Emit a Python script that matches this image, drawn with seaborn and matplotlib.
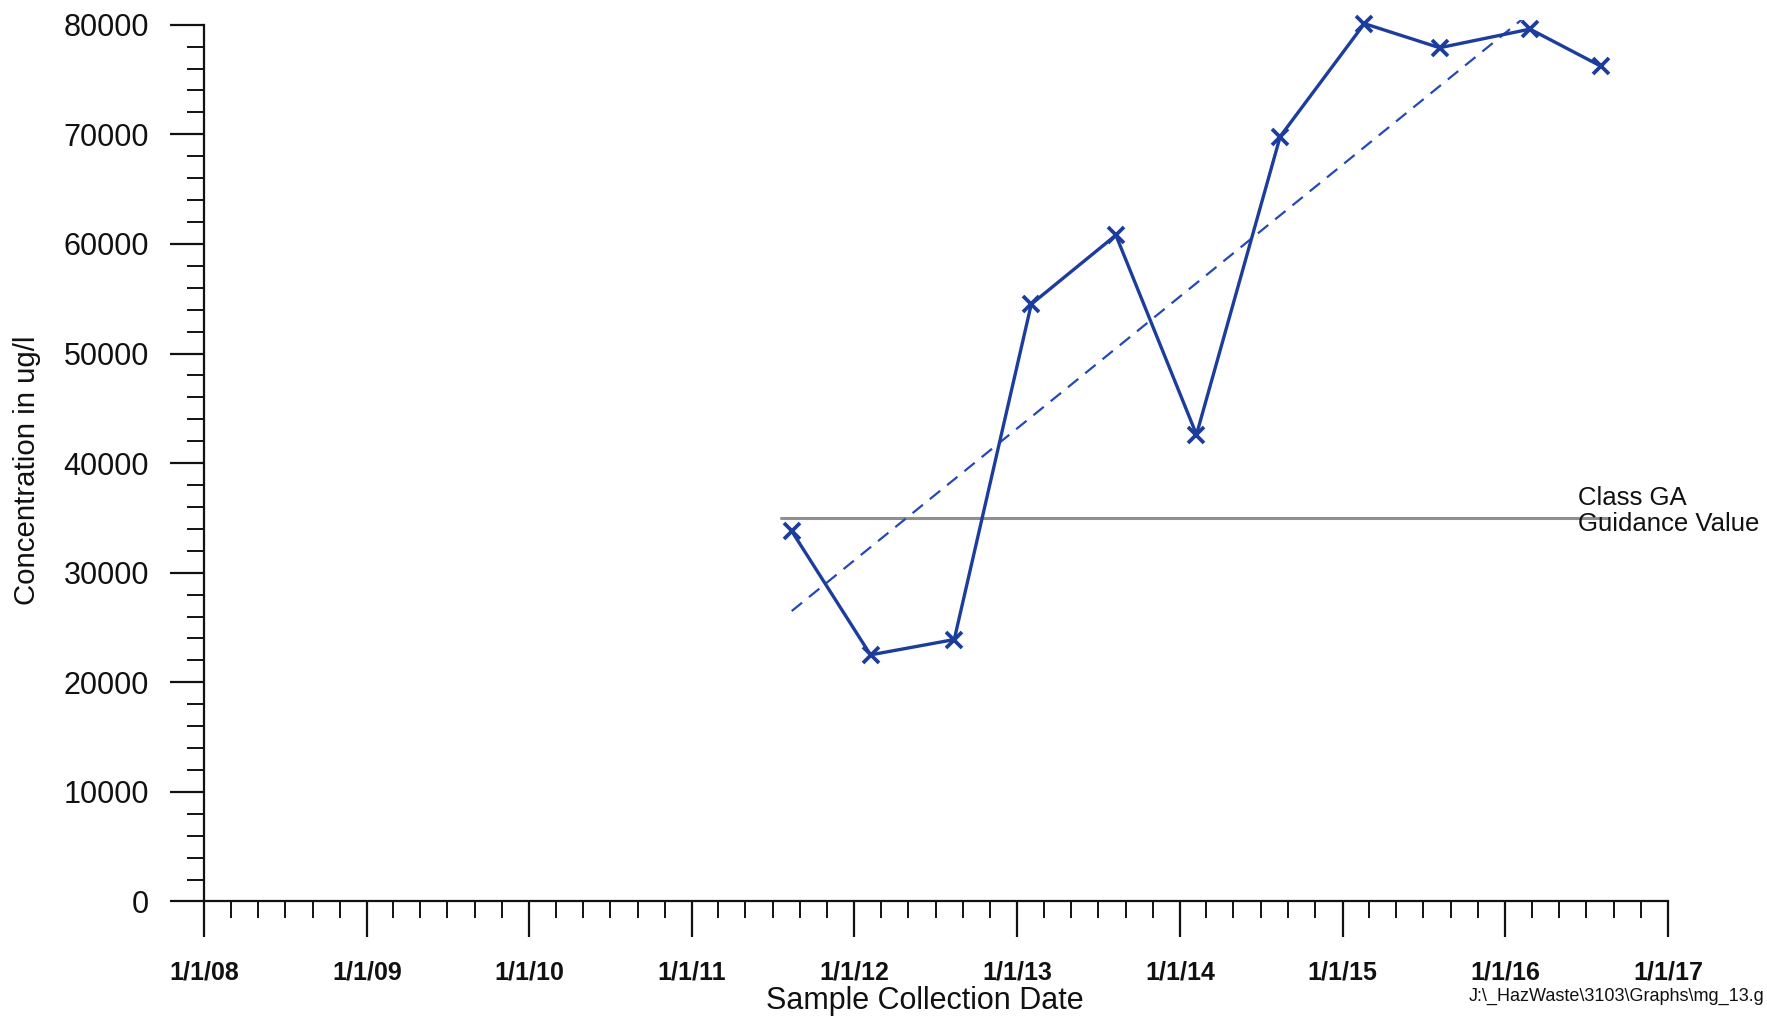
import numpy as np
import pandas as pd
import matplotlib
matplotlib.use("Agg")
import matplotlib.pyplot as plt
import matplotlib.dates as mdates
from matplotlib.ticker import FixedLocator, MultipleLocator, NullFormatter
import seaborn as sns

# Sample results
sample_dates = ["2011-08-13", "2012-02-06", "2012-08-12", "2013-02-01", "2013-08-10",
                "2014-02-07", "2014-08-14", "2015-02-19", "2015-08-07", "2016-02-26",
                "2016-08-04"]
concentration = [33800, 22500, 23900, 54500, 60800, 42600, 69800, 80100, 77900, 79600, 76200]

guidance_value = 35000
guidance_label = "Class GA\nGuidance Value"

year_ticks = ["2008-01-01", "2009-01-01", "2010-01-01", "2011-01-01", "2012-01-01",
              "2013-01-01", "2014-01-01", "2015-01-01", "2016-01-01", "2017-01-01"]
year_labels = ["1/1/08", "1/1/09", "1/1/10", "1/1/11", "1/1/12",
               "1/1/13", "1/1/14", "1/1/15", "1/1/16", "1/1/17"]
y_ticks = [0, 10000, 20000, 30000, 40000, 50000, 60000, 70000, 80000]

sns.set_theme(style="ticks")
plt.rcParams["font.family"] = ["Liberation Sans", "DejaVu Sans"]
narrow = ["Liberation Sans Narrow", "Liberation Sans", "DejaVu Sans"]

df = pd.DataFrame({"date": pd.to_datetime(sample_dates), "conc": concentration})

fig = plt.figure(figsize=(17.67, 10.17), dpi=100)
ax = fig.add_axes([0.1154, 0.1136, 0.944 - 0.1154, 0.98 - 0.1136])

line_color = "#1c3d9c"
sns.lineplot(data=df, x="date", y="conc", ax=ax, color=line_color, lw=2.4,
             marker="x", markersize=12, markeredgewidth=2.7, markeredgecolor=line_color,
             clip_on=False, zorder=4)

# Linear trend through the samples
xnum = mdates.date2num(df["date"])
slope, intercept = np.polyfit(xnum, df["conc"], 1)
tx = np.array([xnum[0], xnum[-1]])
ax.plot(tx, slope * tx + intercept, ls=(0, (6, 4)), color="#2448b8", lw=1.6, zorder=3)

# Guidance value line
gx = [xnum[0] - 25, xnum[-1] + 12]
ax.plot(gx, [guidance_value, guidance_value], color="#8f8f8f", lw=2.2, zorder=2, clip_on=False)
ax.annotate(guidance_label, xy=(mdates.date2num(pd.Timestamp("2016-06-13")), guidance_value),
            xytext=(0, 5), textcoords="offset points",
            fontsize=18.5, va="center", ha="left", linespacing=1.1, color="#111111",
            annotation_clip=False, zorder=5)

# Axes limits and ticks
ax.set_xlim(mdates.date2num(pd.Timestamp(year_ticks[0])), mdates.date2num(pd.Timestamp(year_ticks[-1])))
ax.set_ylim(0, 80400)
ax.spines["top"].set_visible(False)
ax.spines["right"].set_visible(False)
ax.spines["left"].set_bounds(0, 80000)
for s in ("left", "bottom"):
    ax.spines[s].set_linewidth(1.6)
    ax.spines[s].set_color("#111111")

ax.yaxis.set_major_locator(FixedLocator(y_ticks))
ax.yaxis.set_minor_locator(MultipleLocator(2000))
ax.set_yticklabels([str(v) for v in y_ticks], fontsize=22, color="#111111")
ax.tick_params(axis="y", which="major", length=24.5, width=1.6, pad=15, color="#111111")
ax.tick_params(axis="y", which="minor", length=12, width=1.4, color="#111111")

ax.xaxis.set_major_locator(FixedLocator(mdates.date2num(pd.to_datetime(year_ticks))))
ax.xaxis.set_minor_locator(mdates.MonthLocator(bymonth=[3, 5, 7, 9, 11]))
ax.xaxis.set_minor_formatter(NullFormatter())
ax.set_xticklabels(year_labels)
for lbl in ax.get_xticklabels():
    lbl.set_fontfamily(narrow)
    lbl.set_fontweight("bold")
    lbl.set_fontsize(18)
    lbl.set_color("#111111")
ax.tick_params(axis="x", which="major", length=26, width=1.6, pad=16.5, color="#111111")
ax.tick_params(axis="x", which="minor", length=12, width=1.4, color="#111111")

ax.set_xlabel("")
ax.set_ylabel("")
fig.text(0.5236, 0.0157, "Sample Collection Date", fontsize=22, ha="center", va="center",
         color="#111111")
fig.text(0.015, 0.538, "Concentration in ug/l", fontsize=21.2, rotation=90, ha="center",
         va="center", color="#111111", family=narrow)
fig.text(0.9985, 0.0206, "J:\\_HazWaste\\3103\\Graphs\\mg_13.g", fontsize=13,
         ha="right", va="center", color="#111111", family=narrow)

fig.savefig("out.png", dpi=100, facecolor="white")
